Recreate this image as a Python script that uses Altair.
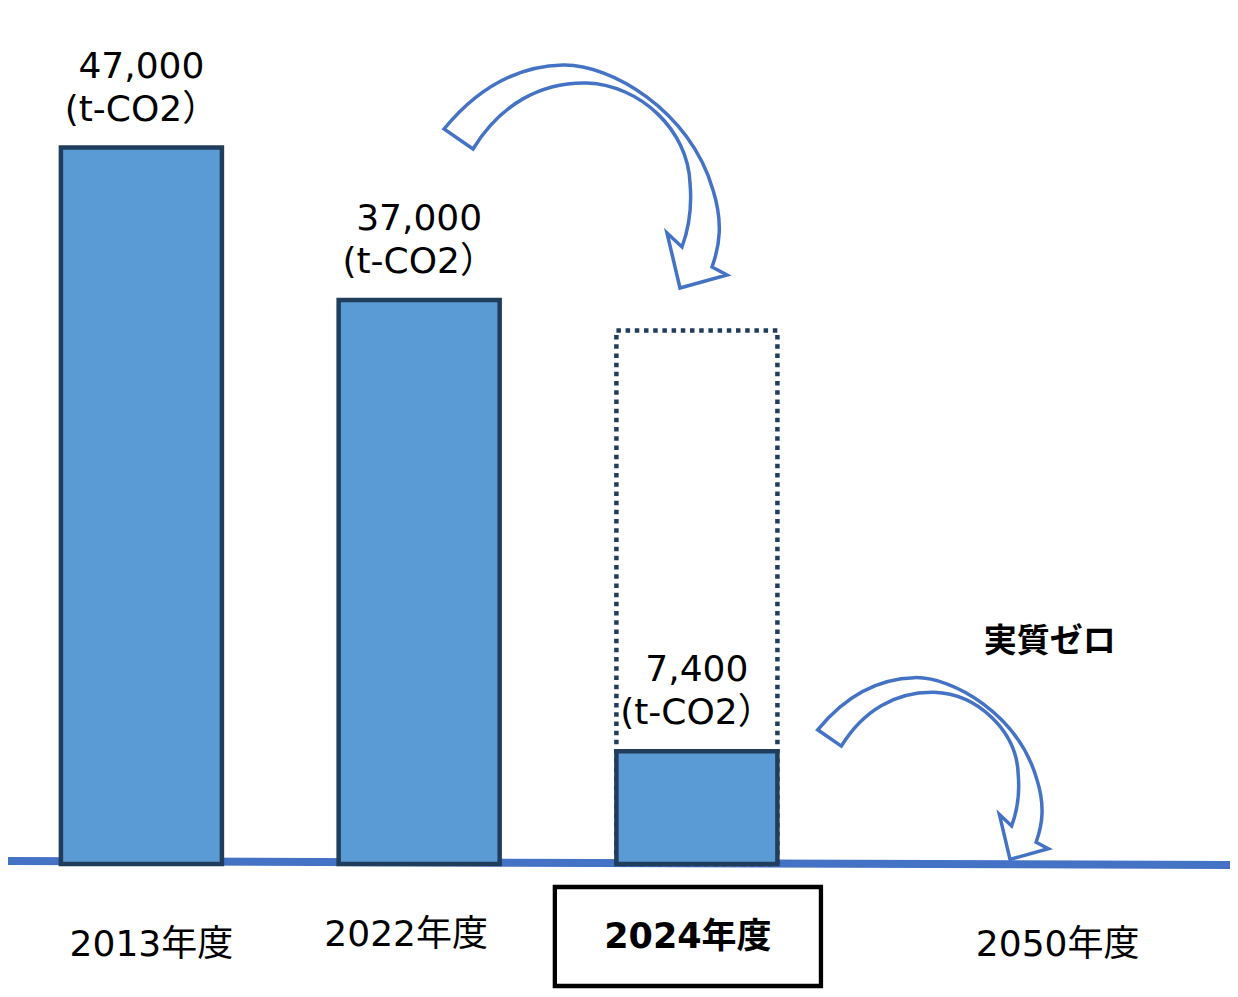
import altair as alt
import pandas as pd

# ---- data ----
years = ["2013年度", "2022年度", "2024年度", "2050年度"]
emissions = [47000, 37000, 7400, 0]
unit_text = "(t-CO2）"
outline_years = ["2024年度"]
outline_values = [35000]
first_year = ["2013年度"]
second_year = ["2022年度"]
highlight_year = ["2024年度"]
goal_year = ["2050年度"]
goal_text = ["実質ゼロ"]

# ---- style ----
W, H = 1222, 981
BAR_FILL = "#5B9BD5"
DARK = "#203D5B"
ARROW = "#4472C4"
FONT = "DejaVu Sans, Noto Sans CJK JP"
CJK = "Noto Sans CJK JP"

df = pd.DataFrame({"year": years, "value": emissions, "unit": [unit_text] * len(years)})
out_df = pd.DataFrame({"year": outline_years, "value": outline_values})
goal_df = pd.DataFrame({"year": goal_year, "text": goal_text})

x_scale = alt.Scale(domain=years, paddingInner=0.4203, paddingOuter=0.41, align=0.2323)
y_scale = alt.Scale(domain=[-8200, 56153], nice=False, zero=False)
X = alt.X("year:N", scale=x_scale, axis=None, sort=years)
Y = alt.Y("value:Q", scale=y_scale, axis=None)


# ---- curved block arrow glyph (symbol shape, normalised to [-1, 1]) ----
def make_path(segments, cx, cy, r):
    parts = []
    for cmd, pts in segments:
        coords = " ".join(f"{(px - cx) / r:.4f},{(py - cy) / r:.4f}" for px, py in pts)
        parts.append(cmd + (" " + coords if coords else ""))
    return " ".join(parts)


arrow_segments = [
    ("M", [(444, 129)]),
    ("C", [(480, 85), (520, 66), (563, 65)]),
    ("C", [(610, 64), (690, 110), (713, 190)]),
    ("C", [(723, 222), (720, 245), (712, 267)]),
    ("L", [(727, 275)]),
    ("L", [(680, 288)]),
    ("L", [(667, 233)]),
    ("L", [(682, 247)]),
    ("C", [(689, 228), (692, 205), (690, 183)]),
    ("C", [(688, 130), (640, 85), (587, 83)]),
    ("C", [(540, 82), (500, 105), (473, 149)]),
    ("Z", []),
]
ARROW_PATH = make_path(arrow_segments, 585.5, 176.5, 142)
BOX_PATH = "M -0.887,-0.33 H 0.887 V 0.33 H -0.887 Z"

one = pd.DataFrame({"k": [0]})

baseline = alt.Chart(one).mark_rule(
    color=ARROW, strokeWidth=8, yOffset=-3, y2Offset=1
).encode(
    x=alt.value(0), x2=alt.value(W + 2),
    y=alt.Y(datum=0, type="quantitative", scale=y_scale, axis=None),
    y2=alt.datum(0),
)

outline = alt.Chart(out_df).mark_bar(
    fillOpacity=0, stroke=DARK, strokeWidth=4.5, strokeDash=[4.5, 4.7]
).encode(x=X, y=Y, y2=alt.datum(0))

bars = alt.Chart(df).transform_filter("datum.value > 0").mark_bar(
    fill=BAR_FILL, stroke=DARK, strokeWidth=4.5
).encode(x=X, y=Y, y2=alt.datum(0))

value_labels = alt.Chart(df).transform_filter("datum.value > 0").transform_calculate(
    label="format(datum.value, ',') + '\\n' + datum.unit"
).mark_text(
    font=FONT, fontSize=36, lineBreak="\n", lineHeight=43, baseline="bottom",
    align="center", dy=-62, color="black"
).encode(x=X, y=Y, text="label:N")


def cat_label(sel, dx, dy, weight="normal", size=36):
    return alt.Chart(df).transform_filter(
        alt.FieldOneOfPredicate(field="year", oneOf=sel)
    ).mark_text(font=FONT, fontSize=size, fontWeight=weight, baseline="middle",
                dx=dx, dy=dy, color="black").encode(x=X, y=alt.datum(0), text="year:N")


cat_2013 = cat_label(first_year, 10, 81)
cat_2022 = cat_label(second_year, -13, 71)
cat_2024 = cat_label(highlight_year, -9, 73, weight="bold", size=35)
cat_2050 = cat_label(goal_year, 83, 81)

cat_box = alt.Chart(df).transform_filter(
    alt.FieldOneOfPredicate(field="year", oneOf=highlight_year)
).mark_point(shape=BOX_PATH, size=90000, filled=False, stroke="black", strokeWidth=4.3,
             opacity=1, xOffset=-9, yOffset=72.5).encode(x=X, y=alt.datum(0))

goal_label = alt.Chart(goal_df).mark_text(
    font=CJK, fontSize=33, fontWeight="bold", baseline="middle", dx=75, dy=-222, color="black"
).encode(x=X, y=alt.datum(0), text="text:N")

arrow1 = alt.Chart(one).mark_point(
    shape=ARROW_PATH, size=284 ** 2, filled=True, fill="white", stroke=ARROW,
    strokeWidth=3.5, opacity=1
).encode(x=alt.value(577.5), y=alt.value(168.5))

arrow2 = alt.Chart(one).mark_point(
    shape=ARROW_PATH, size=(284 * 0.815) ** 2, filled=True, fill="white", stroke=ARROW,
    strokeWidth=3.5, opacity=1
).encode(x=alt.value(925), y=alt.value(760.5))

chart = alt.layer(
    baseline, outline, bars, value_labels, arrow1, arrow2,
    cat_box, cat_2013, cat_2022, cat_2024, cat_2050, goal_label
).properties(
    width=W, height=H, padding=0,
    autosize=alt.AutoSizeParams(type="none"),
).configure_view(stroke=None)

chart.save("out.html", embed_options={"renderer": "svg", "actions": False})
